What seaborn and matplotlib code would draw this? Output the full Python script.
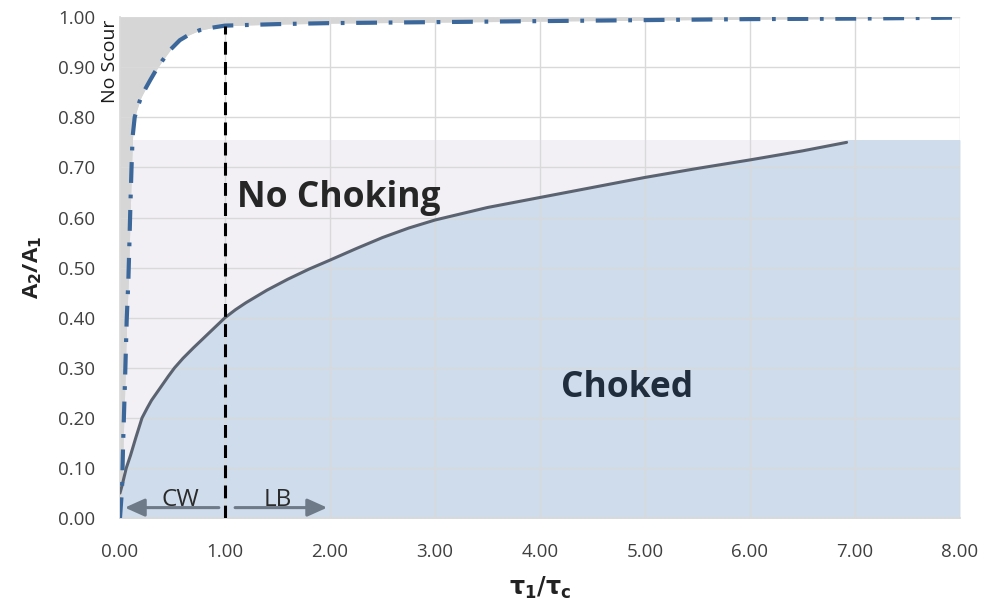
import matplotlib
matplotlib.use("Agg")
import matplotlib.pyplot as plt
import seaborn as sns
import numpy as np

# choking curve (solid grey)
choke_x = [0.0, 0.02, 0.06, 0.1, 0.15, 0.21, 0.26, 0.3, 0.35, 0.4, 0.46, 0.52, 0.6, 0.7, 0.78,
           0.85, 0.92, 1.0, 1.1, 1.2, 1.4, 1.6, 1.8, 2.0, 2.25, 2.5, 2.75, 3.0, 3.5, 4.0,
           4.5, 5.0, 5.5, 6.0, 6.5, 6.92]
choke_y = [0.05, 0.065, 0.1, 0.125, 0.16, 0.2, 0.22, 0.235, 0.25, 0.265, 0.283, 0.3, 0.319, 0.34, 0.356,
           0.37, 0.384, 0.40, 0.416, 0.43, 0.455, 0.477, 0.497, 0.515, 0.538, 0.56, 0.579, 0.595, 0.62, 0.64,
           0.66, 0.68, 0.698, 0.715, 0.733, 0.75]

# scour limit curve (dash-dot blue)
scour_x = [0.0, 0.02, 0.03, 0.048, 0.064, 0.08, 0.09, 0.1, 0.11, 0.12, 0.14, 0.16, 0.2,
           0.25, 0.29, 0.34, 0.4, 0.48, 0.57, 0.65, 0.76, 0.88, 1.0, 1.5, 2.0, 3.0, 4.0,
           5.0, 6.0, 7.0, 8.0]
scour_y = [0.0, 0.06, 0.15, 0.275, 0.395, 0.475, 0.55, 0.63, 0.7, 0.76, 0.8, 0.815, 0.84,
           0.86, 0.875, 0.893, 0.912, 0.935, 0.954, 0.964, 0.974, 0.979, 0.983, 0.986, 0.988, 0.99, 0.992,
           0.994, 0.996, 0.997, 0.999]

zone_top = 0.755
x_ticks = [0, 1, 2, 3, 4, 5, 6, 7, 8]
y_ticks = [0.0, 0.1, 0.2, 0.3, 0.4, 0.5, 0.6, 0.7, 0.8, 0.9, 1.0]

sns.set_theme(style="whitegrid")
plt.rcParams['font.family'] = ['Open Sans', 'DejaVu Sans']

fig = plt.figure(figsize=(9.85, 6.11), dpi=100)
ax = fig.add_axes([0.1218, 0.152, 0.8528, 0.820])

# background zones
ax.fill_between([0, 8], 0, zone_top, color="#f2f0f5", zorder=0.5, lw=0)
cx = np.array(choke_x)
cy = np.array(choke_y)
ax.fill_between(np.append(cx, 8), 0, np.append(cy, zone_top), color="#cfdcec", zorder=0.6, lw=0)
ax.fill_between([6.92, 8], 0, zone_top, color="#cfdcec", zorder=0.6, lw=0)
ax.fill_betweenx(scour_y, 0, scour_x, color="#d6d6d6", zorder=0.7, lw=0)
ax.fill_between(scour_x, scour_y, 1.0, color="#d6d6d6", zorder=0.7, lw=0)

sns.lineplot(x=choke_x, y=choke_y, ax=ax, color="#5c6370", lw=2.2, zorder=3)
sns.lineplot(x=scour_x, y=scour_y, ax=ax, color="#3b679a", lw=3, zorder=3)
ax.lines[-1].set_dashes([5, 2.8, 0.9, 2.8])

# vertical divider at tau/tauc = 1
ax.plot([1, 1], [0, 0.983], color="black", lw=2.2, dashes=[4.2, 2.4], zorder=4)

# CW / LB arrows
arrow_kw = dict(arrowstyle="-|>,head_length=1.0,head_width=0.45", color="#6f7a88", lw=2.2)
ax.annotate("", xy=(0.02, 0.021), xytext=(0.968, 0.021), arrowprops=arrow_kw, zorder=5)
ax.annotate("", xy=(2.0, 0.021), xytext=(1.07, 0.021), arrowprops=arrow_kw, zorder=5)
ax.text(0.58, 0.024, "CW", ha="center", va="baseline", fontsize=17.5, color="#2b2b2b", zorder=6)
ax.text(1.5, 0.024, "LB", ha="center", va="baseline", fontsize=17.5, color="#2b2b2b", zorder=6)

ax.text(1.114, 0.621, "No Choking", fontsize=25.5, fontweight="bold", color="#262626",
        ha="left", va="baseline")
ax.text(4.83, 0.242, "Choked", fontsize=25.5, fontweight="bold", color="#1f2d3d",
        ha="center", va="baseline")
ax.text(-0.095, 0.911, "No Scour", rotation=90, fontsize=14, color="#1a1a1a",
        ha="center", va="center", clip_on=False)

ax.set_xlim(0, 8)
ax.set_ylim(0, 1.0)
ax.set_xticks(x_ticks)
ax.set_yticks(y_ticks)
ax.set_xticklabels([f"{v:.2f}" for v in x_ticks])
ax.set_yticklabels([f"{v:.2f}" for v in y_ticks])
ax.tick_params(axis="both", labelsize=13.5, colors="#404040", length=0, pad=18)
ax.grid(True, color="#d9d9d9", lw=1)
ax.set_axisbelow(False)
for g in ax.get_xgridlines() + ax.get_ygridlines():
    g.set_zorder(1)
for side in ["top", "right"]:
    ax.spines[side].set_visible(False)
ax.spines["left"].set_color("#d9d9d9")
ax.spines["bottom"].set_color("#d9d9d9")
ax.set_facecolor("white")

ax.set_xlabel(r"$\mathbf{\tau_1/\tau_c}$", fontsize=17, labelpad=10, color="#222222")
ax.set_ylabel(r"A$_\mathbf{2}$/A$_\mathbf{1}$", fontsize=16, fontweight="bold", labelpad=10, color="#222222")

fig.savefig("out.png", dpi=100)
